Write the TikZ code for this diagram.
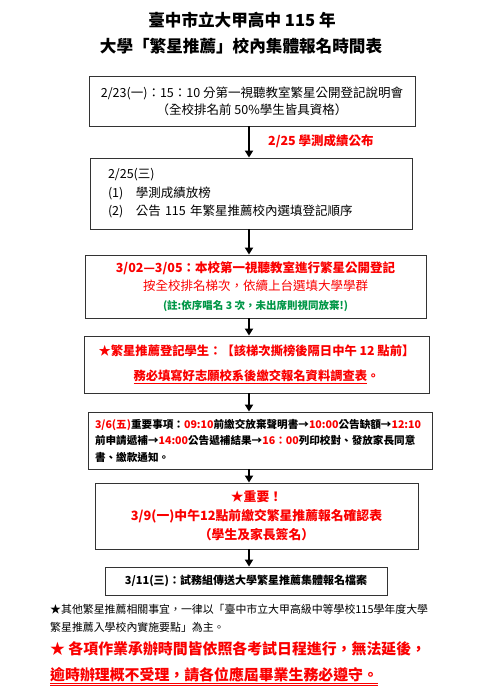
\documentclass[tikz,border=0pt]{standalone}
\usepackage{fontspec}
\setmainfont{Noto Sans CJK TC}
\usetikzlibrary{arrows.meta}
\XeTeXlinebreaklocale "zh"
\definecolor{markred}{RGB}{250,0,0}
\definecolor{notegreen}{RGB}{0,150,70}

\begin{document}
\begin{tikzpicture}[x=1pt,y=-1pt]
\tikzset{
  stepbox/.style={draw=black!80,line width=0.9pt,inner sep=0pt,align=center,font=\fontsize{12.5}{17}\selectfont},
  flow/.style={-{Triangle[length=7pt,width=8pt]},line width=2.2pt},
  titletext/.style={inner sep=0pt,font=\fontsize{16.6}{18}\selectfont\bfseries},
  plaintext/.style={inner sep=0pt,align=left,anchor=north west}
}
\useasboundingbox (0,0) rectangle (476,700);
% title
\node[titletext] (title1) at (242,20) {臺中市立大甲高中 115 年};
\node[titletext] (title2) at (241,46) {大學「繁星推薦」校內集體報名時間表};
% steps
\node[stepbox,minimum width=326,minimum height=50] (s1) at (252,101)
  {2/23(一)：15：10 分第一視聽教室繁星公開登記說明會\\（全校排名前 50\%學生皆具資格）};
\node[stepbox,minimum width=322,minimum height=71,text width=286,align=left,font=\fontsize{12.5}{18.5}\selectfont] (s2) at (251,193.5)
  {2/25(三)\\(1)\quad 學測成績放榜\\(2)\quad 公告 115 年繁星推薦校內選填登記順序};
\node[stepbox,minimum width=341,minimum height=63,font=\fontsize{12.5}{18.5}\selectfont] (s3) at (255.5,286.5)
  {\textcolor{markred}{\bfseries 3/02—3/05：本校第一視聽教室進行繁星公開登記}\\
   \textcolor{markred}{按全校排名梯次，依續上台選填大學學群}\\
   {\fontsize{10.5}{18.5}\selectfont\bfseries\color{notegreen}(註:依序唱名 3 次，未出席則視同放棄!)}};
\node[stepbox,minimum width=345,minimum height=57,font=\fontsize{12.3}{25}\selectfont\bfseries\color{markred}] (s4) at (256.5,364.5)
  {★繁星推薦登記學生：【該梯次撕榜後隔日中午 12 點前】\\
   \underline{務必填寫好志願校系後繳交報名資料調查表}。};
\node[stepbox,minimum width=344,minimum height=57,text width=330,align=left,font=\fontsize{10.6}{16.5}\selectfont\bfseries] (s5) at (260,440.5)
  {\textcolor{markred}{3/6(五)}重要事項：\textcolor{markred}{09:10}前繳交放棄聲明書→\textcolor{markred}{10:00}公告缺額→\textcolor{markred}{12:10}\\
   前申請遞補→\textcolor{markred}{14:00}公告遞補結果→\textcolor{markred}{16：00}列印校對、發放家長同意\\
   書、繳款通知。};
\node[stepbox,minimum width=323,minimum height=66,font=\fontsize{12.8}{19}\selectfont\bfseries\color{markred}] (s6) at (256.5,516)
  {★重要！\\3/9(一)中午12點前繳交繁星推薦報名確認表\\（學生及家長簽名）};
\node[stepbox,minimum width=282,minimum height=28,font=\fontsize{11}{14}\selectfont\bfseries] (s7) at (246,581)
  {3/11(三)：試務組傳送大學繁星推薦集體報名檔案};
% arrows
\coordinate (axis) at (249,0);
\draw[flow] (s1.south -| axis) -- (s2.north -| axis);
\draw[flow] (s2.south -| axis) -- (s3.north -| axis);
\draw[flow] (s3.south -| axis) -- (s4.north -| axis);
\draw[flow] (s4.south -| axis) -- (s5.north -| axis);
\draw[flow] (s5.south -| axis) -- (s6.north -| axis);
\draw[flow] (s6.south -| axis) -- (s7.north -| axis);
\node[inner sep=0pt,anchor=west,font=\fontsize{12.5}{14}\selectfont\bfseries,text=markred] (score) at (268,141) {2/25 學測成績公布};
% notes
\node[plaintext,font=\fontsize{10.9}{18}\selectfont] (note) at (50,604)
  {★其他繁星推薦相關事宜，一律以「臺中市立大甲高級中等學校115學年度大學\\繁星推薦入學校內實施要點」為主。};
\node[plaintext,font=\fontsize{14.9}{26}\selectfont\bfseries,text=markred] (warn) at (50,641)
  {★ 各項作業承辦時間皆依照各考試日程進行，無法延後，\\
   \underline{\underline{逾時辦理概不受理，請各位應屆畢業生務必遵守。}}};
\end{tikzpicture}
\end{document}
